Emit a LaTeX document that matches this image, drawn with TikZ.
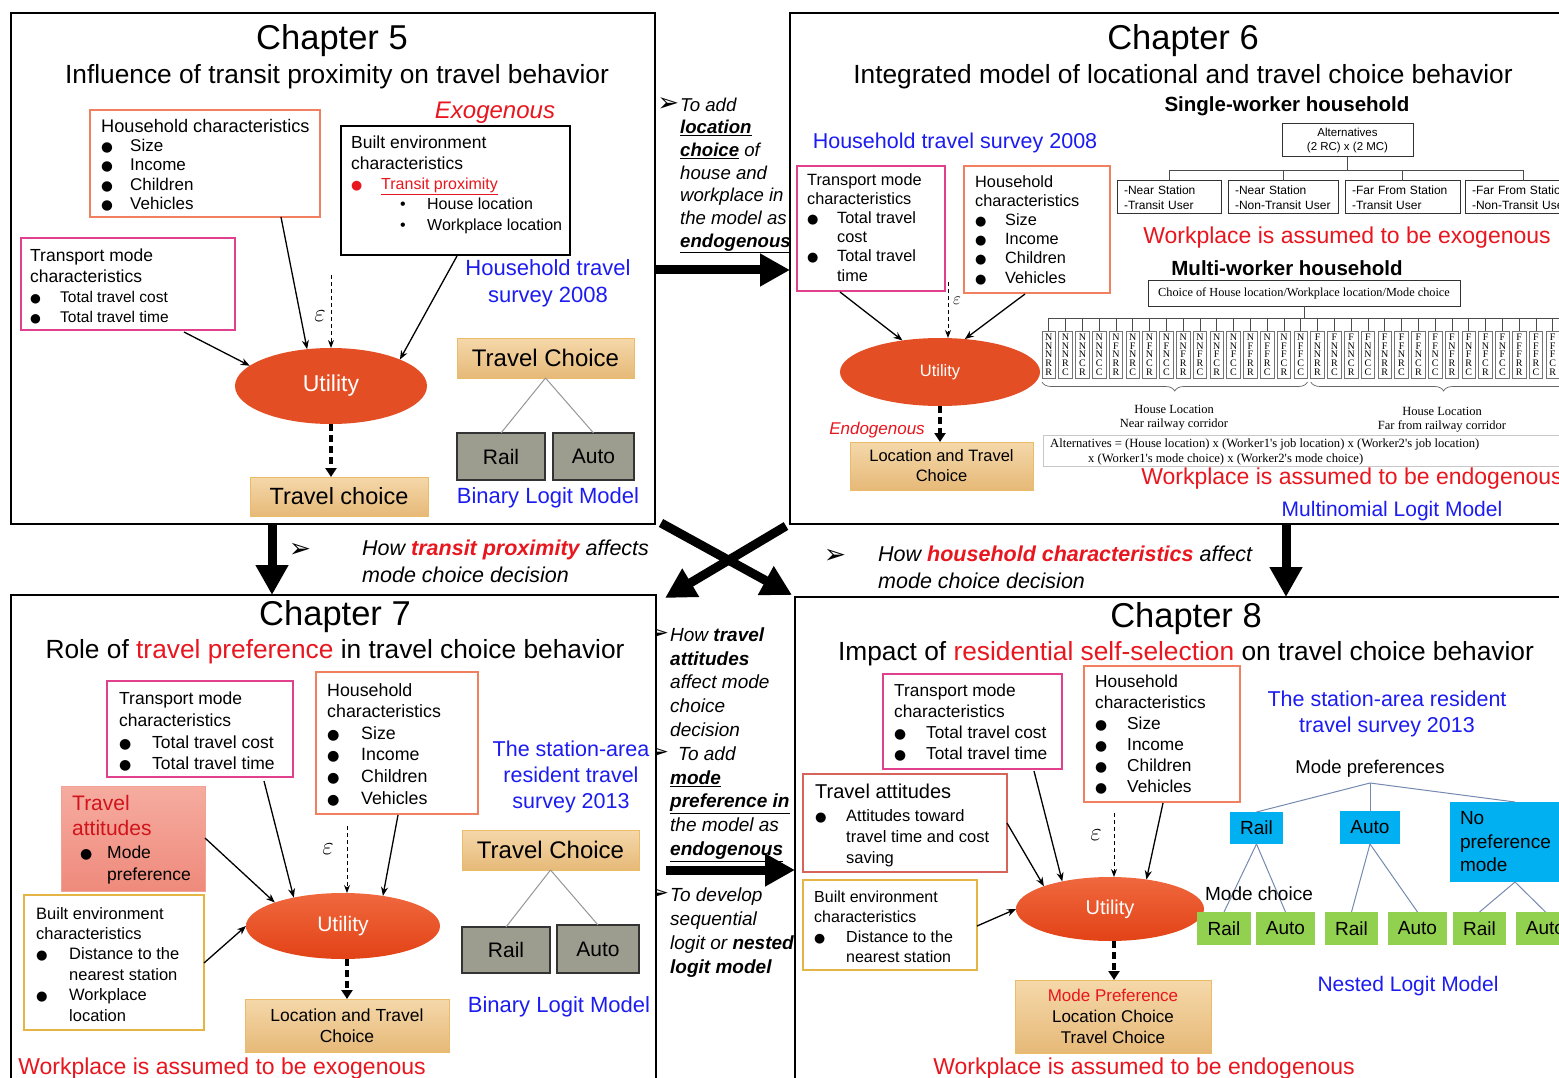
\documentclass[tikz,border=0pt]{standalone}
\usepackage{fontspec}
\usepackage{graphicx}
\setmainfont{Liberation Sans}
\newfontfamily\serifft{Liberation Serif}
\newfontfamily\symft{DejaVu Sans}
\usetikzlibrary{arrows.meta,shapes.geometric,decorations.pathreplacing,calc}

\definecolor{hhc}{RGB}{240,128,96}
\definecolor{tmc}{RGB}{224,64,140}
\definecolor{bec}{RGB}{228,180,68}
\definecolor{tac}{RGB}{215,100,90}
\definecolor{txtred}{RGB}{232,22,30}
\definecolor{txtblue}{RGB}{28,28,240}
\definecolor{tanA}{RGB}{245,216,170}
\definecolor{tanB}{RGB}{230,185,120}
\definecolor{tanD}{RGB}{234,188,104}
\definecolor{grayF}{RGB}{156,157,143}
\definecolor{utilA}{RGB}{240,104,62}
\definecolor{utilB}{RGB}{226,66,22}
\definecolor{utilF}{RGB}{228,78,36}
\definecolor{prefB}{RGB}{0,176,240}
\definecolor{choiceG}{RGB}{146,208,80}
\definecolor{attA}{RGB}{246,172,160}
\definecolor{attB}{RGB}{238,138,124}
\definecolor{treeL}{RGB}{150,150,150}
\definecolor{treeB}{RGB}{118,138,176}

\newcommand\fs[2]{\fontsize{#1}{#2}\selectfont}
\newcommand\bul{{\symft\scalebox{0.8}{●}}}
\newcommand\bi[2]{\makebox[#1][l]{\bul}#2}
\newcommand\ptr{{\symft\upshape\scalebox{1.4}{➢}}}

\tikzset{
  chframe/.style={draw, line width=2pt, fill=white, anchor=north west, inner sep=0pt, outer sep=0pt},
  sz/.style 2 args={minimum width=#1pt, minimum height=#2pt},
  cbox/.style={draw=#1, line width=1.3pt, fill=white, anchor=north west, inner sep=0pt, outer sep=0pt},
  tx/.style={inner sep=0pt, anchor=north west, align=left, yshift=-2pt},
  lbl/.style={inner sep=0pt, align=center, yshift=-2.5pt},
  tanbox/.style={draw=tanD, line width=1pt, top color=tanA, bottom color=tanB, anchor=north west, inner sep=0pt, outer sep=0pt, align=center},
  graybox/.style={draw=black!80, line width=1.2pt, fill=grayF, anchor=north west, inner sep=0pt, outer sep=0pt, font=\fs{21}{24}},
  pbox/.style={fill=prefB, anchor=north west, inner sep=0pt, outer sep=0pt, font=\fs{19}{23.5}},
  gbox/.style={fill=choiceG, anchor=north west, inner sep=0pt, outer sep=0pt, font=\fs{19}{22}},
  smallbox/.style={draw=black!80, line width=1pt, fill=white, anchor=north west, inner sep=0pt, outer sep=0pt},
  colbox/.style={draw=black!55, line width=0.7pt, fill=white, inner sep=0pt, outer sep=0pt, minimum width=13.5pt, minimum height=47pt, align=center, font=\serifft\fs{10}{8.7}},
  util/.style={ellipse, fill=utilF, inner sep=0pt, outer sep=0pt, text=white},
  utilsh/.style={ellipse, top color=utilA, bottom color=utilB, inner sep=0pt, outer sep=0pt, text=white},
  inarr/.style={line width=1.3pt, -{Stealth[length=9pt,width=7pt]}},
  epsarr/.style={line width=1pt, dash pattern=on 4pt off 3pt, -{Stealth[length=8pt,width=6pt]}},
  dasharr/.style={line width=3.5pt, dash pattern=on 7pt off 4pt, -{Triangle[length=9pt,width=11pt]}},
  bigarr/.style={line width=9pt, -{Triangle[length=30pt,width=31pt]}},
  treel/.style={draw=treeL, line width=1pt},
  treeb/.style={draw=treeB, line width=1pt},
  gridl/.style={draw=black!70, line width=0.8pt},
  brc/.style={draw=black!60, line width=0.7pt, decorate, decoration={brace, mirror, amplitude=9pt}},
}

\begin{document}
\begin{tikzpicture}[x=1pt,y=-1pt]
\useasboundingbox (0,0) rectangle (1559,1078);
\clip (0,0) rectangle (1559,1078);
\fill[white] (0,0) rectangle (1559,1078);

% ---------- notes between the chapter panels ----------
\node[tx, font=\itshape\fs{18.6}{22.7}] (g1) at (680,95) {\llap{\ptr\hspace{1pt}}To add\\ \textbf{\underline{location}}\\ \textbf{\underline{choice}} of\\ house and\\ workplace in\\ the model as\\ \textbf{\underline{endogenous}}};
\node[lbl, font=\fs{19}{22}] (g2a) at (300,548) {\ptr};
\node[tx, font=\itshape\fs{21.5}{27}] (g2) at (362,538) {How {\bfseries\color{txtred}transit proximity} affects\\mode choice decision};
\node[lbl, font=\fs{19}{22}] (g3a) at (835,554) {\ptr};
\node[tx, font=\itshape\fs{21.5}{27}] (g3) at (878,544) {How {\bfseries\color{txtred}household characteristics} affect\\mode choice decision};
\node[tx, font=\itshape\fs{19}{23.8}] (g4) at (670,625) {\llap{\ptr\hspace{1pt}}How \textbf{travel}\\ \textbf{attitudes}\\ affect mode\\ choice\\ decision\\ \llap{\ptr\hspace{1pt}}\hspace{8pt}To add\\ \textbf{\underline{mode}}\\ \textbf{\underline{preference in}}\\ the model as\\ \textbf{\underline{endogenous}}};
\node[tx, font=\itshape\fs{19}{24}] (g5) at (670,885) {\llap{\ptr\hspace{1pt}}To develop\\ sequential\\ logit or \textbf{nested}\\ \textbf{logit model}};

% ---------- chapter panels ----------
\node[chframe, sz={644}{511}] (f5) at (11,13) {};
\node[chframe, sz={790}{511}] (f6) at (790,13) {};
\node[chframe, sz={645}{500}] (f7) at (11,595) {};
\node[chframe, sz={790}{500}] (f8) at (795,597) {};

% ---------- arrows between panels ----------
\draw[bigarr] ($(f5.north east)+(0,257)$) -- ($(f6.north west)+(0,257)$);
\draw[bigarr] ($(f5.south west)+(261,0)$) -- ($(f7.north west)+(261,0)$);
\draw[bigarr] ($(f6.south west)+(496,0)$) -- ($(f8.north west)+(491,0)$);
\draw[bigarr] ($(f5.south east)+(6,-1)$) -- ($(f8.north west)+(-3,-2)$);
\draw[bigarr] ($(f6.south west)+(-4,2)$) -- ($(f7.north east)+(9,3)$);
\draw[bigarr] ($(f7.north east)+(10,275)$) -- ($(f8.north west)+(0,273)$);

% =============== Chapter 5 ===============
\node[lbl, font=\fs{34.5}{37}] (t5) at (332,38) {Chapter 5};
\node[lbl, font=\fs{26.3}{28}] (s5) at (337,74) {Influence of transit proximity on travel behavior};
\node[lbl, font=\itshape\fs{24}{26}, text=txtred] (ex5) at (495,110) {Exogenous};

\node[cbox=hhc, sz={230}{107}] (hh5) at (90,110) {};
\node[tx, font=\fs{18.2}{19.3}] (hh5t) at (101,117) {Household characteristics\\ {\fs{17}{19.3}\bi{29pt}{Size}}\\ {\fs{17}{19.3}\bi{29pt}{Income}}\\ {\fs{17}{19.3}\bi{29pt}{Children}}\\ {\fs{17}{19.3}\bi{29pt}{Vehicles}}};

\node[cbox=black, sz={229}{129}] (be5) at (341,126) {};
\node[tx, font=\fs{17.5}{20.3}] (be5t) at (351,134) {Built environment\\ characteristics\\ {\color{txtred}\fs{16}{20.3}\bi{30pt}{\underline{Transit proximity}}}\\ {\fs{16}{20.3}\hspace{49pt}\makebox[27pt][l]{\textbullet}House location}\\ {\fs{16}{20.3}\hspace{49pt}\makebox[27pt][l]{\textbullet}Workplace location}};

\node[cbox=tmc, sz={214}{92}] (tm5) at (21,238) {};
\node[tx, font=\fs{17.5}{20.3}] (tm5t) at (30,247) {Transport mode\\ characteristics\\ {\fs{15.5}{20.3}\bi{30pt}{Total travel cost}}\\ {\fs{15.5}{20.3}\bi{30pt}{Total travel time}}};

\node[lbl, font=\fs{22}{27}, text=txtblue] (sv5) at (548,281) {Household travel\\survey 2008};

\node[util, minimum width=192pt, minimum height=76pt, font=\fs{23}{25}] (u5) at (331,386) {Utility};
\draw[inarr] ($(hh5.south west)+(191,0)$) -- (u5.123);
\draw[inarr] ($(be5.south west)+(116,1)$) -- (u5.21);
\draw[inarr] ($(tm5.south west)+(163,2)$) -- (u5.166);
\coordinate (e5) at (331,275);
\draw[epsarr] (e5) -- (u5.north);
\node[lbl, font=\fs{24}{24}] (eps5) at (320,314) {$\varepsilon$};

\node[tanbox, sz={178}{39}, font=\fs{23.5}{26}] (tc5) at (250,477) {Travel choice};
\draw[dasharr] (u5.south) -- (u5.south |- tc5.north);

\node[tanbox, sz={177}{40}, font=\fs{24}{26}] (tca5) at (457,338) {Travel Choice};
\node[graybox, sz={88}{47}] (rail5) at (457,433) {Rail};
\node[graybox, sz={81}{47}] (auto5) at (553,433) {Auto};
\draw[treel] (tca5.south) -- (rail5.north);
\draw[treel] (tca5.south) -- (auto5.north);
\node[lbl, font=\fs{22}{24}, text=txtblue] (bl5) at (548,495) {Binary Logit Model};

% =============== Chapter 6 ===============
\node[lbl, font=\fs{34.5}{37}] (t6) at (1183,38) {Chapter 6};
\node[lbl, font=\fs{26.3}{28}] (s6) at (1183,74) {Integrated model of locational and travel choice behavior};
\node[lbl, font=\bfseries\fs{20.5}{23}] (sw6) at (1287,104) {Single-worker household};
\node[lbl, font=\fs{21.5}{24}, text=txtblue] (sv6) at (955,140) {Household travel survey 2008};

\node[cbox=tmc, sz={148}{125}] (tm6) at (797,166) {};
\node[tx, font=\fs{16.3}{19.2}] (tm6t) at (807,171) {Transport mode\\ characteristics\\ \bi{30pt}{Total travel}\\ \hspace{30pt}cost\\ \bi{30pt}{Total travel}\\ \hspace{30pt}time};
\node[cbox=hhc, sz={146}{127}] (hh6) at (964,166) {};
\node[tx, font=\fs{16.3}{19.2}] (hh6t) at (975,173) {Household\\ characteristics\\ \bi{30pt}{Size}\\ \bi{30pt}{Income}\\ \bi{30pt}{Children}\\ \bi{30pt}{Vehicles}};

\node[util, minimum width=200pt, minimum height=68pt, font=\fs{16.5}{18}] (u6) at (940,372) {Utility};
\draw[inarr] ($(tm6.south west)+(43,1)$) -- (u6.140);
\coordinate (e6) at (948,282);
\draw[epsarr] (e6) -- (e6 |- u6.north);
\node[lbl, font=\fs{19}{19}] (eps6) at (957,298) {$\varepsilon$};
\draw[inarr] ($(hh6.south west)+(61,1)$) -- (u6.53);

\node[lbl, font=\itshape\fs{17}{19}, text=txtred] (en6) at (877,428) {Endogenous};
\node[tanbox, sz={183}{48}, font=\fs{16.5}{20}] (lt6) at (850,442) {Location and Travel\\Choice};
\draw[dasharr] (u6.south) -- (u6.south |- lt6.north);

% single-worker alternatives tree
\node[smallbox, sz={131}{33}, font=\fs{11.5}{14}, align=center] (alt6) at (1282,124) {Alternatives\\(2 RC) x (2 MC)};
\node[smallbox, sz={104}{33}, text width=90pt, align=left, font=\fs{12}{14.5}] (a1) at (1117,181) {-Near Station\\-Transit User};
\node[smallbox, sz={110}{33}, text width=96pt, align=left, font=\fs{12}{14.5}] (a2) at (1228,181) {-Near Station\\-Non-Transit User};
\node[smallbox, sz={115}{33}, text width=101pt, align=left, font=\fs{12}{14.5}] (a3) at (1345,181) {-Far From Station\\-Transit User};
\node[smallbox, sz={116}{33}, text width=102pt, align=left, font=\fs{12}{14.5}] (a4) at (1465,181) {-Far From Station\\-Non-Transit User};
\draw[gridl] (alt6.south) -- ++(0,13) coordinate (j6);
\foreach \b in {a1,a2,a3,a4} \draw[gridl] (j6) -| (\b.north);

\node[lbl, font=\fs{23}{25}, text=txtred] (wx6) at (1347,235) {Workplace is assumed to be exogenous};
\node[lbl, font=\bfseries\fs{20.5}{23}] (mw6) at (1287,266) {Multi-worker household};

% multi-worker alternatives grid
\node[smallbox, sz={312}{25}, font=\serifft\fs{12.3}{14}] (ch6b) at (1148,281) {Choice of House location/Workplace location/Mode choice};
\draw[gridl] (ch6b.south) -- ++(0,12) coordinate (j6b);
\foreach \k in {0,...,31} {
  \pgfmathsetmacro\cx{1048.75+16.8*\k}
  \pgfmathtruncatemacro\hb{\k>15}
  \pgfmathtruncatemacro\ci{mod(\k,16)}
  \pgfmathtruncatemacro\wa{mod(floor(\ci/4),2)}
  \pgfmathtruncatemacro\wb{mod(floor(\ci/8),2)}
  \pgfmathtruncatemacro\ma{mod(floor(\ci/2),2)}
  \pgfmathtruncatemacro\mb{mod(\ci,2)}
  \node[colbox] (c\k) at (\cx,354.5) {\ifnum\hb=1 F\else N\fi\\\ifnum\wa=1 F\else N\fi\\\ifnum\wb=1 F\else N\fi\\\ifnum\ma=1 C\else R\fi\\\ifnum\mb=1 C\else R\fi};
  \draw[gridl] (j6b) -| (c\k.north);
}
\draw[brc] ($(c0.south west)+(0,4)$) -- ($(c15.south east)+(0,4)$);
\draw[brc] ($(c16.south west)+(0,4)$) -- ($(c31.south east)+(0,4)$);
\node[lbl, font=\serifft\fs{12.5}{14}] (hl1) at (1174,415) {House Location\\Near railway corridor};
\node[lbl, font=\serifft\fs{12.5}{14}] (hl2) at (1442,417) {House Location\\Far from railway corridor};
\node[anchor=north west, draw=black!22, line width=0.6pt, inner sep=0pt, sz={540}{31}] (altsb) at (1043,435) {};
\node[tx, font=\serifft\fs{12.6}{15}] (alts) at (1050,437) {Alternatives = (House location) x (Worker1's job location) x (Worker2's job location)\\ \hspace{38pt}x (Worker1's mode choice) x (Worker2's mode choice)};
\node[lbl, font=\fs{23}{25}, text=txtred] (wn6) at (1352,476) {Workplace is assumed to be endogenous};
\node[lbl, font=\fs{21}{24}, text=txtblue] (ml6) at (1392,509) {Multinomial Logit Model};

% =============== Chapter 7 ===============
\node[lbl, font=\fs{34.5}{37}] (t7) at (335,614) {Chapter 7};
\node[lbl, font=\fs{26.3}{28}] (s7) at (335,649) {Role of {\color{txtred}travel preference} in travel choice behavior};

\node[cbox=tmc, sz={186}{96}] (tm7) at (107,681) {};
\node[tx, font=\fs{17.5}{21.7}] (tm7t) at (119,690) {Transport mode\\ characteristics\\ \bi{33pt}{Total travel cost}\\ \bi{33pt}{Total travel time}};
\node[cbox=hhc, sz={162}{142}] (hh7) at (316,672) {};
\node[tx, font=\fs{17.8}{21.6}] (hh7t) at (327,681) {Household\\ characteristics\\ \bi{34pt}{Size}\\ \bi{34pt}{Income}\\ \bi{34pt}{Children}\\ \bi{34pt}{Vehicles}};
\node[draw=attB!80!white, line width=1pt, top color=attA, bottom color=attB, anchor=north west, inner sep=0pt, outer sep=0pt, sz={144}{105}] (ta7) at (61,786) {};
\node[tx, font=\fs{21}{25}, text=txtred!90!black] (ta7t) at (72,793) {Travel\\attitudes};
\node[tx, font=\fs{17.5}{22}] (ta7b) at (80,844) {\bi{27pt}{Mode}\\ \hspace{27pt}preference};
\node[cbox=bec, sz={180}{135}] (be7) at (24,895) {};
\node[tx, font=\fs{16.5}{20.4}] (be7t) at (36,905) {Built environment\\ characteristics\\ \bi{33pt}{Distance to the}\\ \hspace{33pt}nearest station\\ \bi{33pt}{Workplace}\\ \hspace{33pt}location};

\node[utilsh, minimum width=194pt, minimum height=66pt, font=\fs{21}{23}] (u7) at (343,926) {Utility};
\draw[inarr] ($(tm7.south west)+(157,4)$) -- (u7.150);
\draw[inarr] ($(ta7.north east)+(0,52)$) -- (u7.161);
\draw[inarr] ($(be7.north east)+(0,68)$) -- (u7.west);
\draw[inarr] ($(hh7.south west)+(82,1)$) -- (u7.37);
\coordinate (e7) at (347,826);
\draw[epsarr] (e7) -- (e7 |- u7.north);
\node[lbl, font=\fs{24}{24}] (eps7) at (328,847) {$\varepsilon$};

\node[tanbox, sz={204}{53}, font=\fs{17.5}{21}] (lt7) at (245,999) {Location and Travel\\Choice};
\draw[dasharr] (e7 |- u7.south) -- (e7 |- lt7.north);

\node[lbl, font=\fs{21.5}{26}, text=txtblue] (sv7) at (571,774) {The station-area\\resident travel\\survey 2013};
\node[tanbox, sz={177}{40}, font=\fs{24}{26}] (tca7) at (462,830) {Travel Choice};
\node[graybox, sz={88}{46}] (rail7) at (462,927) {Rail};
\node[graybox, sz={82}{48}] (auto7) at (557,925) {Auto};
\draw[treel] (tca7.south) -- (rail7.north);
\draw[treel] (tca7.south) -- (auto7.north);
\node[lbl, font=\fs{22}{24}, text=txtblue] (bl7) at (559,1004) {Binary Logit Model};
\node[lbl, font=\fs{23}{25}, text=txtred] (wx7) at (222,1066) {Workplace is assumed to be exogenous};

% =============== Chapter 8 ===============
\node[lbl, font=\fs{34.5}{37}] (t8) at (1186,616) {Chapter 8};
\node[lbl, font=\fs{26.3}{28}] (s8) at (1186,651) {Impact of {\color{txtred}residential self-selection} on travel choice behavior};

\node[cbox=tmc, sz={179}{95}] (tm8) at (883,674) {};
\node[tx, font=\fs{17.3}{21}] (tm8t) at (894,682) {Transport mode\\ characteristics\\ \bi{32pt}{Total travel cost}\\ \bi{32pt}{Total travel time}};
\node[cbox=hhc, sz={156}{136}] (hh8) at (1084,666) {};
\node[tx, font=\fs{17.3}{21}] (hh8t) at (1095,673) {Household\\ characteristics\\ \bi{32pt}{Size}\\ \bi{32pt}{Income}\\ \bi{32pt}{Children}\\ \bi{32pt}{Vehicles}};
\node[cbox=tac, sz={204}{98}] (ta8) at (803,774) {};
\node[tx, font=\fs{20}{22}] (ta8t) at (815,782) {Travel attitudes};
\node[tx, font=\fs{16.5}{21}] (ta8b) at (815,807) {\bi{31pt}{Attitudes toward}\\ \hspace{31pt}travel time and cost\\ \hspace{31pt}saving};
\node[cbox=bec, sz={174}{90}] (be8) at (803,880) {};
\node[tx, font=\fs{16}{20}] (be8t) at (814,889) {Built environment\\ characteristics\\ \bi{32pt}{Distance to the}\\ \hspace{32pt}nearest station};

\node[utilsh, minimum width=188pt, minimum height=64pt, font=\fs{20}{22}] (u8) at (1110,909) {Utility};
\draw[inarr] ($(tm8.south west)+(151,2)$) -- (u8.150);
\draw[inarr] ($(ta8.north east)+(0,49)$) -- (u8.161);
\draw[inarr] ($(be8.north east)+(0,46)$) -- (u8.west);
\draw[inarr] ($(hh8.south west)+(79,1)$) -- (u8.39);
\coordinate (e8) at (1114,813);
\draw[epsarr] (e8) -- (e8 |- u8.north);
\node[lbl, font=\fs{24}{24}] (eps8) at (1096,833) {$\varepsilon$};

\node[tanbox, sz={196}{73}, font=\fs{17}{21}] (mp8) at (1015,980) {{\color{txtred}Mode Preference}\\Location Choice\\Travel Choice};
\draw[dasharr] (e8 |- u8.south) -- (e8 |- mp8.north);
\node[lbl, font=\fs{23}{25}, text=txtred] (wn8) at (1144,1066) {Workplace is assumed to be endogenous};

% nested logit tree
\node[lbl, font=\fs{21.5}{26}, text=txtblue] (sv8) at (1387,711) {The station-area resident\\travel survey 2013};
\node[lbl, font=\fs{18.5}{20}] (mpl) at (1370,766) {Mode preferences};
\coordinate (mroot) at (1370,783);
\node[pbox, sz={53}{32}] (prail) at (1230,812) {Rail};
\node[pbox, sz={60}{33}] (pauto) at (1340,811) {Auto};
\node[pbox, sz={130}{80}, text width=110pt, align=left] (pnone) at (1450,802) {No\\preference\\mode};
\draw[treeb] (mroot) -- (prail.north);
\draw[treeb] (mroot) -- (pauto.north);
\draw[treeb] (mroot) -- (pnone.north);
\node[gbox, sz={54}{33}] (m1) at (1197,912) {Rail};
\node[gbox, sz={59}{33}] (m2) at (1256,912) {Auto};
\node[gbox, sz={53}{33}] (m3) at (1325,912) {Rail};
\node[gbox, sz={59}{33}] (m4) at (1388,912) {Auto};
\node[gbox, sz={53}{33}] (m5) at (1453,912) {Rail};
\node[gbox, sz={59}{33}] (m6) at (1516,912) {Auto};
\draw[treeb] (prail.south) -- (m1.north);
\draw[treeb] (prail.south) -- (m2.north);
\draw[treeb] (pauto.south) -- (m3.north);
\draw[treeb] (pauto.south) -- (m4.north);
\draw[treeb] (pnone.south) -- (m5.north);
\draw[treeb] (pnone.south) -- (m6.north);
\node[lbl, font=\fs{19}{21}] (mcl) at (1259,891) {Mode choice};
\node[lbl, font=\fs{21}{24}, text=txtblue] (nl8) at (1408,984) {Nested Logit Model};
\end{tikzpicture}
\end{document}
